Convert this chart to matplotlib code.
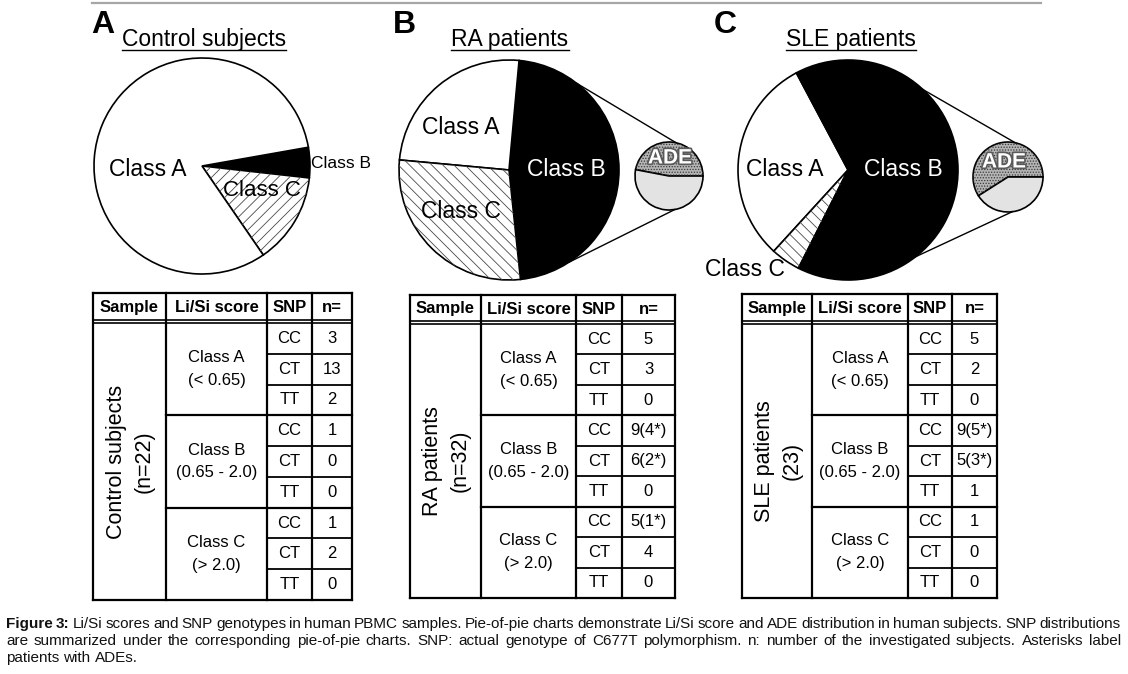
import matplotlib
matplotlib.use("Agg")
import numpy as np
import matplotlib.pyplot as plt
import matplotlib.patheffects as pe

# Canvas size in pixels (1 data unit = 1 pixel)
W, H = 1128, 674

# Pie-of-pie data: number of subjects in each Li/Si class
control_classes = ["Class B", "Class C", "Class A"]
control_counts = [1, 3, 18]
ra_classes = ["Class B", "Class A", "Class C"]
ra_counts = [15, 8, 9]
sle_classes = ["Class A", "Class C", "Class B"]
sle_counts = [7, 1, 15]

# Share of ADE patients within Class B
ra_ade = [0.47, 0.53]
sle_ade = [0.59, 0.41]

# SNP tables
header = ["Sample", "Li/Si score", "SNP", "n="]
score_labels = ["Class A\n(< 0.65)", "Class B\n(0.65 - 2.0)", "Class C\n(> 2.0)"]
snp_labels = ["CC", "CT", "TT"]
sample_labels = ["Control subjects\n(n=22)", "RA patients\n(n=32)", "SLE patients\n(23)"]
control_n = ["3", "13", "2", "1", "0", "0", "1", "2", "0"]
ra_n = ["5", "3", "0", "9(4*)", "6(2*)", "0", "5(1*)", "4", "0"]
sle_n = ["5", "2", "0", "9(5*)", "5(3*)", "1", "1", "0", "0"]

caption_lines = [
    "Figure 3: Li/Si scores and SNP genotypes in human PBMC samples. Pie-of-pie charts demonstrate Li/Si score and ADE distribution in human subjects. SNP distributions",
    "are summarized under the corresponding pie-of-pie charts. SNP: actual genotype of C677T polymorphism. n: number of the investigated subjects. Asterisks label",
    "patients with ADEs.",
]

plt.rcParams["font.family"] = ["Liberation Sans", "DejaVu Sans"]
plt.rcParams["hatch.linewidth"] = 0.6


def Y(y):
    # convert a top-origin pixel row to data y
    return H - y


fig = plt.figure(figsize=(W / 100, H / 100), dpi=100)
ax = fig.add_axes([0, 0, 1, 1])

# thin grey rule along the top
ax.plot([92, 1041], [Y(3), Y(3)], color="#a6a6a6", lw=1.6)

# panel letters and titles
for letter, x in zip(["A", "B", "C"], [91, 393, 714]):
    ax.text(x, Y(33), letter, fontsize=23, fontweight="bold", va="baseline")
titles = []
for title, x in zip(["Control subjects", "RA patients", "SLE patients"], [204, 510, 851]):
    titles.append(ax.text(x, Y(46), title, fontsize=16.5, ha="center", va="baseline"))

edge = dict(edgecolor="black", linewidth=1.2)


def big_pie(counts, colors, hatches, center, r, start, ccw):
    cx, cy = center[0], Y(center[1])
    ax.pie(counts, colors=colors, startangle=start, counterclock=ccw,
           center=(cx, cy), radius=r, frame=True, wedgeprops=edge)
    # light hatch lines drawn on top, without touching the black outlines
    over, _ = ax.pie(counts, colors=["none"] * len(counts), startangle=start,
                     counterclock=ccw, center=(cx, cy), radius=r, frame=True,
                     wedgeprops=dict(edgecolor="#4a4a4a", linewidth=0))
    for w, h in zip(over, hatches):
        if h:
            w.set_hatch(h)
        else:
            w.set_visible(False)


def ade_pie(shares, center, r):
    cx, cy = center[0], Y(center[1])
    ax.pie(shares, colors=["#b4b4b4", "#e3e3e3"], startangle=0, counterclock=True,
           center=(cx, cy), radius=r, frame=True, wedgeprops=edge)
    # stipple on the ADE wedge
    w, _ = ax.pie(shares, colors=["none", "none"], startangle=0, counterclock=True,
                  center=(cx, cy), radius=r, frame=True,
                  wedgeprops=dict(edgecolor="#3a3a3a", linewidth=0))
    w[0].set_hatch("......")
    w[1].set_visible(False)


def connector(big_c, big_r, small_c, small_r, a_big, a_small):
    x0 = big_c[0] + big_r * np.cos(np.radians(a_big))
    y0 = Y(big_c[1]) + big_r * np.sin(np.radians(a_big))
    x1 = small_c[0] + small_r * np.cos(np.radians(a_small))
    y1 = Y(small_c[1]) + small_r * np.sin(np.radians(a_small))
    ax.plot([x0, x1], [y0, y1], color="black", lw=1.0)


# A: control subjects
big_pie(control_counts, ["black", "white", "white"], [None, "///", None],
        (202, 166), 108, 10, False)
ax.text(148, Y(170), "Class A", fontsize=16.5, ha="center", va="center")
ax.text(341, Y(164), "Class B", fontsize=12.5, ha="center", va="center")
ax.text(262, Y(191), "Class C", fontsize=16, ha="center", va="center")

# B: RA patients
big_pie(ra_counts, ["black", "white", "white"], [None, None, "\\\\\\"],
        (509, 170), 110, -84, True)
ade_pie(ra_ade, (669, 176), 34)
connector((509, 170), 110, (669, 176), 34, 52, 78)
connector((509, 170), 110, (669, 176), 34, -57, -80)
ax.text(461, Y(128), "Class A", fontsize=16.5, ha="center", va="center")
ax.text(566, Y(170), "Class B", fontsize=16.5, ha="center", va="center", color="white")
ax.text(461, Y(212), "Class C", fontsize=16.5, ha="center", va="center")

# C: SLE patients
big_pie(sle_counts, ["white", "white", "black"], [None, "\\\\\\", None],
        (848, 170), 110, 118, True)
ade_pie(sle_ade, (1008, 177), 35)
connector((848, 170), 110, (1008, 177), 35, 47, 78)
connector((848, 170), 110, (1008, 177), 35, -52, -83)
ax.text(785, Y(170), "Class A", fontsize=16.5, ha="center", va="center")
ax.text(903, Y(170), "Class B", fontsize=16.5, ha="center", va="center", color="white")
ax.text(745, Y(270), "Class C", fontsize=16.5, ha="center", va="center")

ade_fx = [pe.withStroke(linewidth=2.4, foreground="#5a5a5a")]
for x, y in [(670, 158), (1004, 162)]:
    ax.text(x, Y(y), "ADE", fontsize=15, fontweight="bold", color="white",
            ha="center", va="center", path_effects=ade_fx)


def hline(x0, x1, y, lw=1.6):
    ax.plot([x0, x1], [Y(y), Y(y)], color="black", lw=lw, solid_capstyle="projecting")


def vline(x, y0, y1, lw=1.6):
    ax.plot([x, x], [Y(y0), Y(y1)], color="black", lw=lw, solid_capstyle="projecting")


def draw_table(xs, top, head_bot, bottom, sample, n_vals):
    body_top = head_bot + 3
    row_h = (bottom - body_top) / 9
    # frame and header rules
    hline(xs[0], xs[-1], top)
    hline(xs[0], xs[-1], bottom)
    hline(xs[0], xs[-1], head_bot, lw=1.2)
    hline(xs[0], xs[-1], body_top, lw=1.2)
    for x in xs:
        vline(x, top, bottom)
    for i in range(1, 9):
        y = body_top + i * row_h
        hline(xs[1] if i % 3 == 0 else xs[2], xs[-1], y, lw=1.6 if i % 3 == 0 else 1.3)
    # header text
    for j, label in enumerate(header):
        ax.text((xs[j] + xs[j + 1]) / 2, Y((top + head_bot) / 2 + 1), label,
                fontsize=12, fontweight="bold", ha="center", va="center")
    # sample label
    ax.text((xs[0] + xs[1]) / 2 + 1, Y((body_top + bottom) / 2), sample, fontsize=15.5,
            rotation=90, ha="center", va="center", multialignment="center", linespacing=1.4)
    # class groups
    for g, label in enumerate(score_labels):
        yc = body_top + (g * 3 + 1.5) * row_h
        ax.text((xs[1] + xs[2]) / 2, Y(yc), label, fontsize=12, ha="center", va="center",
                multialignment="center", linespacing=1.65)
    # SNP rows
    for i in range(9):
        yc = body_top + (i + 0.5) * row_h
        ax.text((xs[2] + xs[3]) / 2, Y(yc), snp_labels[i % 3], fontsize=12,
                ha="center", va="center")
        ax.text((xs[3] + xs[4]) / 2, Y(yc), n_vals[i], fontsize=12,
                ha="center", va="center")


draw_table([93, 166, 267, 312, 352], 293, 320, 600, sample_labels[0], control_n)
draw_table([410, 481, 576, 622, 675], 295, 321, 598, sample_labels[1], ra_n)
draw_table([742, 812, 908, 952, 997], 294, 321, 598, sample_labels[2], sle_n)

ax.set_xlim(0, W)
ax.set_ylim(0, H)
ax.set_aspect("auto")
ax.axis("off")

# underline titles and set justified caption (needs measured text widths)
fig.canvas.draw()
renderer = fig.canvas.get_renderer()
inv = ax.transData.inverted()
for t in titles:
    bb = t.get_window_extent(renderer)
    (x0, _), (x1, _) = inv.transform([(bb.x0, bb.y0), (bb.x1, bb.y1)])
    ax.plot([x0, x1], [Y(50), Y(50)], color="black", lw=1.0)

cap_size = 11
baselines = [628, 645, 662]
for li, (line, yb) in enumerate(zip(caption_lines, baselines)):
    words = line.split(" ")
    items = []
    for wi, word in enumerate(words):
        bold = li == 0 and wi < 2
        items.append(ax.text(0, Y(yb), word, fontsize=cap_size, va="baseline",
                             color="#111111", fontweight="bold" if bold else "normal"))
    widths = [t.get_window_extent(renderer).width for t in items]
    if li < len(caption_lines) - 1:
        gap = (1121 - 6 - sum(widths)) / (len(items) - 1)
    else:
        gap = 0.278 * cap_size * 100 / 72
    x = 6
    for t, w in zip(items, widths):
        t.set_x(x)
        x += w + gap

fig.savefig("out.png", dpi=100)
